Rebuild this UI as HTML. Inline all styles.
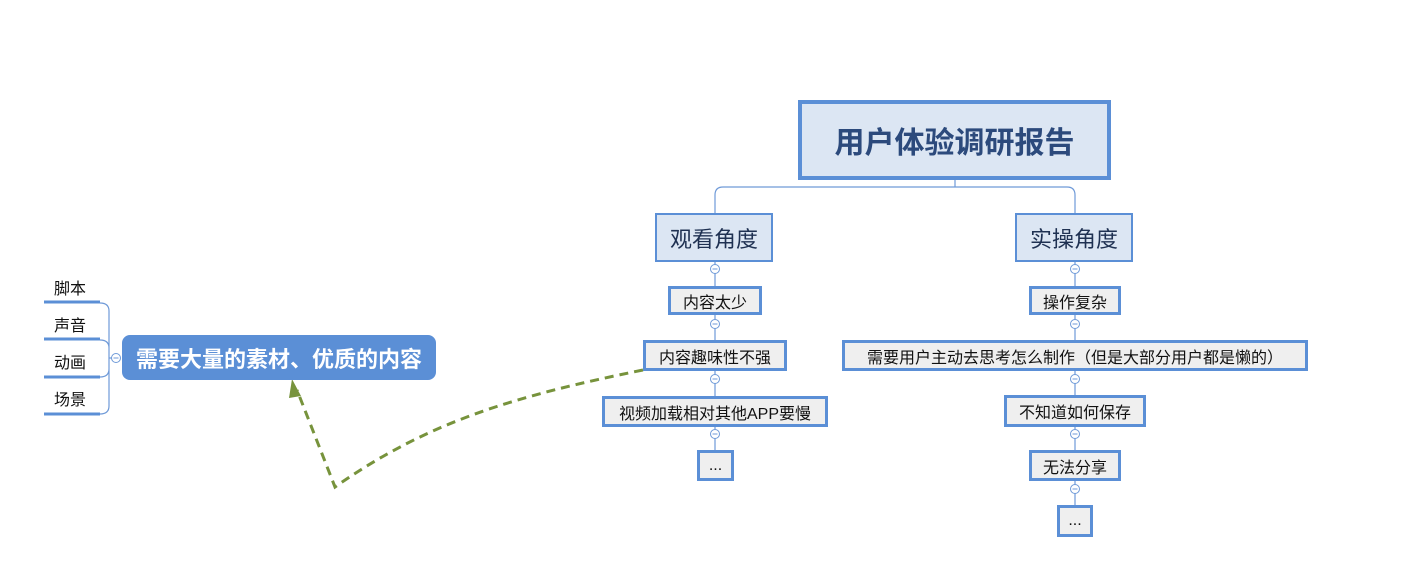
<!DOCTYPE html>
<html><head><meta charset="utf-8"><style>
body{margin:0;width:1413px;height:588px;background:#fff;position:relative;overflow:hidden;font-family:"Liberation Sans","Noto Sans CJK SC",sans-serif;}
.b{position:absolute;box-sizing:border-box;border:3px solid #5b8fd6;background:#efefef;color:#111;font-size:16px;display:flex;align-items:center;justify-content:center;white-space:nowrap;}
.m{background:#dce6f3;font-size:22px;color:#1f3152;border-width:2px;}
.t{position:absolute;font-size:16px;color:#111;}
svg{position:absolute;left:0;top:0;}
</style></head><body>
<svg width="1413" height="588">
<g fill="none" stroke="#6f9ad8" stroke-width="1.2">
<path d="M955 180 V187 M715 213 V195 Q715 187 723 187 H1067 Q1075 187 1075 195 V213"/>
<path d="M715 262 V286 M715 315 V340 M715 371 V396 M715 427 V450"/>
<path d="M1075 262 V286 M1075 315 V340 M1075 371 V395 M1075 427 V450 M1075 481 V505"/>
<path d="M100 303 Q109 303 109 311 V406 Q109 414 100 414 M100 340 Q109 340 109 348 M100 377 Q109 377 109 369 M109 358 H112"/>
</g>
<g fill="#fff" stroke="#6f9ad8" stroke-width="1">
<circle cx="715" cy="269" r="4.5"/><circle cx="715" cy="324" r="4.5"/><circle cx="715" cy="379" r="4.5"/><circle cx="715" cy="434" r="4.5"/>
<circle cx="1075" cy="269" r="4.5"/><circle cx="1075" cy="324" r="4.5"/><circle cx="1075" cy="379" r="4.5"/><circle cx="1075" cy="434" r="4.5"/><circle cx="1075" cy="489" r="4.5"/>
<circle cx="116" cy="358" r="4.5"/>
</g>
<g stroke="#6f9ad8" stroke-width="1">
<path d="M712.5 269 H717.5 M712.5 324 H717.5 M712.5 379 H717.5 M712.5 434 H717.5 M1072.5 269 H1077.5 M1072.5 324 H1077.5 M1072.5 379 H1077.5 M1072.5 434 H1077.5 M1072.5 489 H1077.5 M113.5 358 H118.5"/>
</g>
<g stroke="#5b8fd6" stroke-width="3">
<path d="M44 302 H100 M44 339 H100 M44 377 H100 M44 414 H100"/>
</g>
<path d="M643 370 C520 395 430 420 335 487 L297 390" fill="none" stroke="#77933c" stroke-width="3" stroke-dasharray="9 6"/>
<path d="M292 379 L301 396 L289 398 Z" fill="#77933c"/>
</svg>
<div class="b" style="left:798px;top:100px;width:313px;height:80px;border-width:4px;background:#dce6f3;color:#2c4a7c;font-size:30px;font-weight:bold;">用户体验调研报告</div>
<div class="b m" style="left:655px;top:213px;width:118px;height:49px;">观看角度</div>
<div class="b m" style="left:1015px;top:213px;width:118px;height:49px;">实操角度</div>
<div class="b" style="left:668px;top:286px;width:94px;height:29px;">内容太少</div>
<div class="b" style="left:643px;top:340px;width:144px;height:31px;">内容趣味性不强</div>
<div class="b" style="left:602px;top:396px;width:226px;height:31px;">视频加载相对其他APP要慢</div>
<div class="b" style="left:697px;top:450px;width:37px;height:31px;">...</div>
<div class="b" style="left:1029px;top:286px;width:92px;height:29px;">操作复杂</div>
<div class="b" style="left:842px;top:340px;width:466px;height:31px;">需要用户主动去思考怎么制作（但是大部分用户都是懒的）</div>
<div class="b" style="left:1004px;top:395px;width:142px;height:32px;">不知道如何保存</div>
<div class="b" style="left:1029px;top:450px;width:92px;height:31px;">无法分享</div>
<div class="b" style="left:1057px;top:505px;width:36px;height:32px;">...</div>
<div class="b" style="left:122px;top:335px;width:314px;height:45px;border:none;border-radius:8px;background:#5b8fd6;color:#fff;font-size:22px;font-weight:bold;">需要大量的素材、优质的内容</div>
<div class="t" style="left:54px;top:275px;">脚本</div>
<div class="t" style="left:54px;top:312px;">声音</div>
<div class="t" style="left:54px;top:349px;">动画</div>
<div class="t" style="left:54px;top:386px;">场景</div>
</body></html>
